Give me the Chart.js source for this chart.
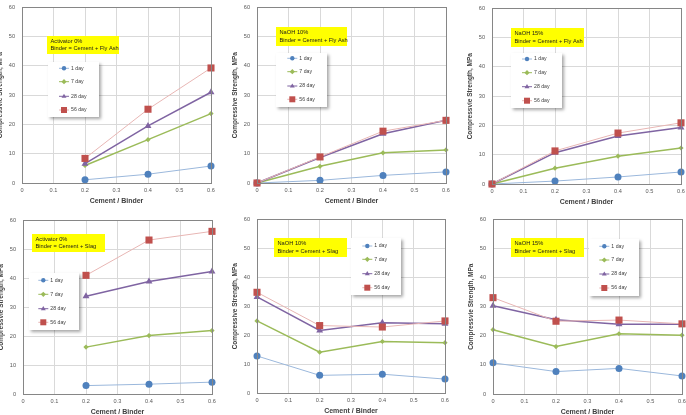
<!DOCTYPE html>
<html><head><meta charset="utf-8">
<script src="https://cdn.jsdelivr.net/npm/chart.js@4"></script>
<style>
html,body{margin:0;padding:0;background:#fff;overflow:hidden;width:686px;height:415px;position:relative}
canvas{position:absolute}
</style></head><body>
<script>
// ---------- DATA ----------
const seriesNames = ['1 day', '7 day', '28 day', '56 day'];
const xTickLabels = ['0', '0.1', '0.2', '0.3', '0.4', '0.5', '0.6'];
const yTickLabels = ['0', '10', '20', '30', '40', '50', '60'];
const xCB3 = [0.2, 0.4, 0.6];
const xCB4 = [0, 0.2, 0.4, 0.6];

// Fly ash, activator 0%
const fa0_1d = [1.1, 3.0, 5.8];
const fa0_7d = [6.0, 14.8, 23.7];
const fa0_28d = [6.6, 19.5, 31.0];
const fa0_56d = [8.4, 25.2, 39.3];
// Fly ash, NaOH 10%
const fa10_1d = [0, 0.9, 2.6, 3.8];
const fa10_7d = [0, 5.7, 10.3, 11.3];
const fa10_28d = [0, 8.7, 16.8, 21.4];
const fa10_56d = [0, 8.9, 17.7, 21.4];
// Fly ash, NaOH 15%
const fa15_1d = [0, 1.0, 2.4, 4.1];
const fa15_7d = [0, 5.4, 9.5, 12.3];
const fa15_28d = [0, 10.7, 16.4, 19.3];
const fa15_56d = [0, 11.3, 17.4, 20.9];
// Slag, activator 0%
const sl0_1d = [2.9, 3.4, 4.1];
const sl0_7d = [16.2, 20.2, 21.9];
const sl0_28d = [33.8, 38.9, 42.3];
const sl0_56d = [41.0, 53.2, 56.2];
// Slag, NaOH 10%
const sl10_1d = [12.8, 6.1, 6.5, 4.8];
const sl10_7d = [24.9, 14.1, 17.8, 17.4];
const sl10_28d = [33.2, 21.6, 24.3, 23.9];
const sl10_56d = [34.8, 23.3, 22.8, 24.9];
// Slag, NaOH 15%
const sl15_1d = [10.7, 7.7, 8.8, 6.2];
const sl15_7d = [22.1, 16.3, 20.7, 20.2];
const sl15_28d = [30.3, 25.5, 24.0, 24.0];
const sl15_56d = [33.1, 25.0, 25.4, 24.1];

const notes = [
  ['Activator 0%', 'Binder = Cement + Fly Ash'],
  ['NaOH 10%', 'Binder = Cement + Fly Ash'],
  ['NaOH 15%', 'Binder = Cement + Fly Ash'],
  ['Activator 0%', 'Binder = Cement + Slag'],
  ['NaOH 10%', 'Binder = Cement + Slag'],
  ['NaOH 15%', 'Binder = Cement + Slag']
];
const yTitles = ['Compressvie Strength, MPa', 'Compressive Strength, MPa', 'Compressvie Strength, MPa',
                 'Compressvie Strength, MPa', 'Compressive Strength, MPa', 'Compressvie Strength, MPa'];
const xTitle = 'Cement / Binder';

// ---------- LAYOUT / STYLE ----------
const panels = [
  {x: xCB3, s: [fa0_1d, fa0_7d, fa0_28d, fa0_56d], plot: [22, 7, 211, 183], noteBox: [47, 36, 119, 54], legBox: [48, 62, 99, 117], mx: 64, legYs: [68.3, 81.7, 96.3, 110]},
  {x: xCB4, s: [fa10_1d, fa10_7d, fa10_28d, fa10_56d], plot: [257, 7, 446, 183], noteBox: [276, 27, 347, 46], legBox: [276, 53, 327, 107], mx: 292.3, legYs: [58.3, 71.7, 86, 99.3]},
  {x: xCB4, s: [fa15_1d, fa15_7d, fa15_28d, fa15_56d], plot: [492, 8, 681, 184], noteBox: [511, 28, 584, 47], legBox: [511, 53, 562, 108], mx: 527, legYs: [59, 72.7, 86.7, 100.7]},
  {x: xCB3, s: [sl0_1d, sl0_7d, sl0_28d, sl0_56d], plot: [23, 220, 212, 394], noteBox: [32, 234, 105, 252], legBox: [29, 273, 79, 330], mx: 43.3, legYs: [280.3, 294.3, 308.7, 322.3]},
  {x: xCB4, s: [sl10_1d, sl10_7d, sl10_28d, sl10_56d], plot: [257, 219, 445, 393], noteBox: [274, 238, 347, 257], legBox: [351, 238, 401, 295], mx: 367.3, legYs: [246, 259.3, 273.7, 287.7]},
  {x: xCB4, s: [sl15_1d, sl15_7d, sl15_28d, sl15_56d], plot: [493, 219, 682, 394], noteBox: [511, 238, 584, 257], legBox: [589, 239, 639, 296], mx: 604.3, legYs: [246.3, 260, 274, 288]}
];
const styles = [
  {line: '#9bb8dc', lw: 1, mark: '#4f81bd', ps: 'circle', r: 3.5, lr: 2.2, order: 3},
  {line: '#9bbb59', lw: 1.5, mark: '#9bbb59', ps: 'rectRot', r: 2.6, lr: 2.0, order: 2},
  {line: '#7f64a2', lw: 1.5, mark: '#8064a2', ps: 'triangle', r: 4, lr: 2.6, order: 1},
  {line: '#e8b6b4', lw: 1, mark: '#c0504d', ps: 'rect', r: 5, lr: 3.0, order: 0}
];
const FONT = '"Liberation Sans", Arial, sans-serif';
const YW = 40, PT = 10, PR = 10, XH = 24;

function drawMarker(ctx, ps, x, y, r, color) {
  ctx.fillStyle = color;
  ctx.beginPath();
  if (ps === 'circle') ctx.arc(x, y, r, 0, Math.PI * 2);
  else if (ps === 'rect') ctx.rect(x - r, y - r, 2 * r, 2 * r);
  else if (ps === 'rectRot') { ctx.moveTo(x, y - r * 1.3); ctx.lineTo(x + r * 1.3, y); ctx.lineTo(x, y + r * 1.3); ctx.lineTo(x - r * 1.3, y); ctx.closePath(); }
  else if (ps === 'triangle') { ctx.moveTo(x, y - r); ctx.lineTo(x + r * 0.95, y + r * 0.6); ctx.lineTo(x - r * 0.95, y + r * 0.6); ctx.closePath(); }
  ctx.fill();
}

const decor = {
  id: 'decor',
  afterDraw(chart, args, o) {
    const ctx = chart.ctx, a = chart.chartArea, p = o.panel, ox = o.ox, oy = o.oy;
    ctx.save();
    // plot frame
    ctx.strokeStyle = '#868686'; ctx.lineWidth = 1;
    ctx.strokeRect(Math.round(a.left) + 0.5, Math.round(a.top) + 0.5, Math.round(a.right - a.left), Math.round(a.bottom - a.top));
    // yellow note
    const nb = p.noteBox;
    ctx.fillStyle = '#ffff00';
    ctx.fillRect(nb[0] - ox, nb[1] - oy, nb[2] - nb[0], nb[3] - nb[1]);
    ctx.fillStyle = '#1a1a1a';
    ctx.font = '5.7px ' + FONT;
    ctx.textBaseline = 'middle';
    ctx.textAlign = 'left';
    const h = nb[3] - nb[1];
    o.note.forEach((t, i) => ctx.fillText(t, nb[0] - ox + 3.5, nb[1] - oy + h * (i === 0 ? 0.3 : 0.7)));
    // legend box
    const lb = p.legBox;
    ctx.save();
    ctx.shadowColor = 'rgba(0,0,0,0.35)'; ctx.shadowBlur = 3; ctx.shadowOffsetX = 2; ctx.shadowOffsetY = 2;
    ctx.fillStyle = '#fff';
    ctx.fillRect(lb[0] - ox, lb[1] - oy, lb[2] - lb[0], lb[3] - lb[1]);
    ctx.restore();
    ctx.font = '5.2px ' + FONT;
    styles.forEach((st, i) => {
      const mx = p.mx - ox, my = p.legYs[i] - oy;
      ctx.strokeStyle = st.line; ctx.lineWidth = 1;
      ctx.beginPath(); ctx.moveTo(mx - 5, my); ctx.lineTo(mx + 5, my); ctx.stroke();
      drawMarker(ctx, st.ps, mx, my, st.lr, st.mark);
      ctx.fillStyle = '#404040';
      ctx.fillText(seriesNames[i], mx + 7, my);
    });
    ctx.restore();
  }
};

panels.forEach((p, k) => {
  const [L, T, R, B] = p.plot;
  const ox = L - YW, oy = T - PT;
  const w = YW + (R - L) + PR, h = PT + (B - T) + XH;
  const cv = document.createElement('canvas');
  cv.width = w; cv.height = h;
  cv.style.left = ox + 'px'; cv.style.top = oy + 'px';
  cv.style.width = w + 'px'; cv.style.height = h + 'px';
  document.body.appendChild(cv);
  const datasets = p.s.map((vals, i) => {
    const st = styles[i];
    return {
      label: seriesNames[i],
      data: vals.map((v, j) => ({x: p.x[j], y: v})),
      borderColor: st.line, borderWidth: st.lw,
      pointStyle: st.ps, pointRadius: st.r,
      pointBackgroundColor: st.mark, pointBorderColor: st.mark, pointBorderWidth: 0,
      order: st.order, clip: false, tension: 0, fill: false
    };
  });
  new Chart(cv, {
    type: 'line',
    data: {datasets},
    options: {
      responsive: false, animation: false, devicePixelRatio: 1,
      layout: {padding: {left: 0, top: PT, right: PR, bottom: 0}},
      plugins: {legend: {display: false}, tooltip: {enabled: false},
        decor: {panel: p, ox, oy, note: notes[k]}},
      scales: {
        x: {
          type: 'linear', min: 0, max: 0.6,
          afterFit: s => { s.height = XH; },
          afterBuildTicks: s => { s.ticks = xTickLabels.map(t => ({value: parseFloat(t)})); },
          ticks: {callback: (v, i) => xTickLabels[i], color: '#595959', font: {family: FONT, size: 5.6}, padding: 4, maxRotation: 0, autoSkip: false},
          grid: {color: '#d9d9d9', lineWidth: 1, drawTicks: false},
          border: {display: false},
          title: {display: true, text: xTitle, color: '#404040', font: {family: FONT, size: 7, weight: 'bold'}, padding: {top: 0, bottom: 2}}
        },
        y: {
          type: 'linear', min: 0, max: 60,
          afterFit: s => { s.width = YW; },
          afterBuildTicks: s => { s.ticks = yTickLabels.map(t => ({value: parseFloat(t)})); },
          ticks: {callback: (v, i) => yTickLabels[i], color: '#595959', font: {family: FONT, size: 5.6}, padding: 7, autoSkip: false},
          grid: {color: '#d9d9d9', lineWidth: 1, drawTicks: false},
          border: {display: false},
          title: {display: true, text: yTitles[k], color: '#404040', font: {family: FONT, size: 6.5, weight: 'bold'}, padding: {top: 14.5, bottom: 0}}
        }
      }
    },
    plugins: [decor]
  });
});
</script>
</body></html>
